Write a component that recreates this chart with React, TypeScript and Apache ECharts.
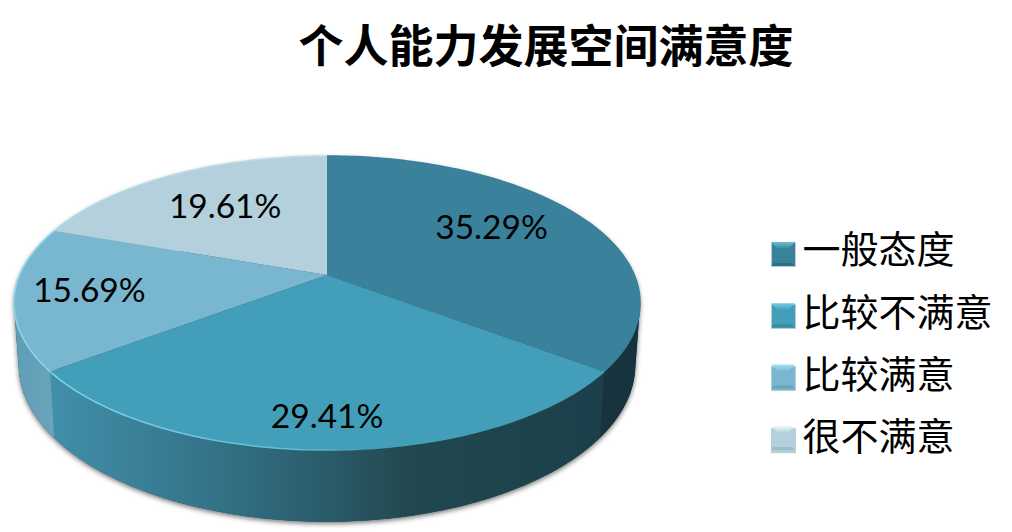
import React, { useEffect, useRef } from "react";
import * as echarts from "echarts";

const categories = ["一般态度", "比较不满意", "比较满意", "很不满意"];
const shares = [35.29, 29.41, 15.69, 19.61];
const titleText = "个人能力发展空间满意度";

const faceColors = ["#3a829c", "#439eb9", "#79b6cf", "#b4d0dd"];
const iconBase = ["#3a829c", "#439eb9", "#79b6cf", "#b4d0dd"];
const iconTop = ["#6cc0d8", "#6fcbe2", "#a5e2f2", "#eefafd"];
const iconLow = ["#2c6f86", "#378aa5", "#6aa5bd", "#9dbcc9"];
const labelReach = [0.63, 0.83, 0.765, 0.63];
const labelRaise = [11, 0, 3, 4];

// Perspective of the plate: the back rim is nearer the apex than the front rim.
const APEX_X = 327;
const APEX_Y = 275;
const WIDTH = 307.3;
const HEIGHT = 141.7;
const TILT = 0.1905;
const BOTTOM_APEX_Y = 335;
const BOTTOM_X = 0.985;
const BOTTOM_Y = 1.067;

const LEGEND_X = 771;
const LEGEND_Y = 242;
const LEGEND_STEP = 61.3;
const ICON = 24;
const LEGEND_ROW = 52.2;

const total = shares.reduce((a, b) => a + b, 0);
const starts = shares.map((_, i) => shares.slice(0, i).reduce((a, b) => a + b, 0) / total);
const ends = shares.map((_, i) => shares.slice(0, i + 1).reduce((a, b) => a + b, 0) / total);

type P = [number, number];

function top(f: number, r = 1): P {
  const t = f * Math.PI * 2;
  const u = Math.sin(t) * r;
  const v = Math.cos(t) * r;
  const d = 1 + TILT * v;
  return [APEX_X + (WIDTH * u) / d, APEX_Y - (HEIGHT * v) / d];
}
function bottom(f: number): P {
  const [x, y] = top(f);
  return [APEX_X + (x - APEX_X) * BOTTOM_X, BOTTOM_APEX_Y + (y - APEX_Y) * BOTTOM_Y];
}
function arcBetween(a: number, b: number, fn: (f: number) => P) {
  const pts: P[] = [];
  const n = 120;
  for (let k = 0; k <= n; k++) pts.push(fn(a + ((b - a) * k) / n));
  return pts;
}
function hull(input: P[]) {
  const pts = [...input].sort((p, q) => p[0] - q[0] || p[1] - q[1]);
  const cross = (o: P, a: P, b: P) => (a[0] - o[0]) * (b[1] - o[1]) - (a[1] - o[1]) * (b[0] - o[0]);
  const build = (list: P[]) => {
    const h: P[] = [];
    for (const p of list) {
      while (h.length >= 2 && cross(h[h.length - 2], h[h.length - 1], p) <= 0) h.pop();
      h.push(p);
    }
    h.pop();
    return h;
  };
  return [...build(pts), ...build(pts.reverse())];
}

const stopsOf = (stops: [number, string][]) => stops.map(([offset, color]) => ({ offset, color }));
const hGrad = (stops: [number, string][], x0: number, x1: number) => ({
  type: "linear", x: x0, y: 0, x2: x1, y2: 0, global: true, colorStops: stopsOf(stops),
});

function sideFill(i: number) {
  if (i === 0) return hGrad([[0, "#1b3d49"], [1, "#16323d"]], 327, 640);
  if (i === 1)
    return hGrad(
      [[0, "#418fa9"], [0.27, "#35758b"], [0.5, "#2a5b69"], [0.65, "#21474f"], [1, "#1c404b"]],
      52, 605,
    );
  if (i === 2) return hGrad([[0, "#5f9db7"], [1, "#6ba5bc"]], 14, 58);
  return "#a9c5d2";
}

function rimStroke(i: number) {
  if (i === 1) return hGrad([[0, "#7cd6ec"], [0.45, "#62bcd4"], [0.56, faceColors[1]], [1, faceColors[1]]], 52, 605);
  if (i === 2) return "#8fd6ea";
  if (i === 3) return hGrad([[0, "#a8d8e6"], [1, "#c6dde7"]], 50, 327);
  return faceColors[0];
}

function sideItem(_: any, api: any) {
  const i = api.value(0);
  const points = hull([...arcBetween(starts[i], ends[i], top), ...arcBetween(starts[i], ends[i], bottom)]);
  return { type: "polygon", shape: { points }, style: { fill: sideFill(i) } };
}

function shadowItem() {
  const points = hull([...arcBetween(0, 1, top), ...arcBetween(0, 1, bottom)]);
  return {
    type: "polygon",
    shape: { points },
    style: {
      fill: "#1c404b",
      shadowBlur: 5,
      shadowColor: "rgba(0,0,0,0.55)",
      shadowOffsetY: 2,
    },
  };
}

function faceItem(_: any, api: any) {
  const i = api.value(0);
  const rim = arcBetween(starts[i], ends[i], top);
  const mid = (starts[i] + ends[i]) / 2;
  const [lx, ly] = top(mid, labelReach[i]);
  return {
    type: "group",
    children: [
      { type: "polygon", shape: { points: [[APEX_X, APEX_Y], ...rim] }, style: { fill: faceColors[i] } },
      {
        type: "polyline",
        shape: { points: rim },
        style: { fill: "none", stroke: rimStroke(i), lineWidth: 1.5 },
      },
      {
        type: "text",
        x: lx,
        y: ly - labelRaise[i],
        z2: 100,
        style: {
          text: `${shares[i].toFixed(2)}%`,
          fill: "#000",
          fontSize: 33.5,
          fontFamily: "Lato, 'Noto Sans CJK SC', sans-serif",
          align: "center",
          verticalAlign: "middle",
        },
      },
    ],
  };
}

function bevels() {
  const b = 7;
  return categories.flatMap((_, i) => {
    const x = LEGEND_X;
    const y = LEGEND_Y + i * LEGEND_STEP;
    const s = ICON;
    const trap = (points: P[], fill: any) => ({ type: "polygon", z: 50, silent: true, shape: { points }, style: { fill } });
    return [
      trap([[x, y], [x + s, y], [x + s - b, y + b], [x + b, y + b]], {
        type: "linear", x: 0, y: 0, x2: 0, y2: 1,
        colorStops: [{ offset: 0, color: iconTop[i] }, { offset: 1, color: iconBase[i] }],
      }),
      trap([[x, y + s], [x + s, y + s], [x + s - 3, y + s - 3], [x + 3, y + s - 3]], iconLow[i]),
    ];
  });
}

export default function App() {
  const ref = useRef<HTMLDivElement>(null);
  useEffect(() => {
    const chart = echarts.init(ref.current!, undefined, { renderer: "svg" });
    chart.setOption({
      animation: false,
      backgroundColor: "#fff",
      title: {
        text: titleText,
        left: 541,
        top: 16,
        textAlign: "center",
        textStyle: {
          fontSize: 45,
          fontWeight: "bold",
          color: "#000",
          fontFamily: "'Noto Sans CJK SC', sans-serif",
        },
      },
      legend: {
        orient: "vertical",
        left: LEGEND_X,
        top: LEGEND_Y - (LEGEND_ROW - ICON) / 2,
        padding: 0,
        itemWidth: ICON,
        itemHeight: ICON,
        itemGap: LEGEND_STEP - LEGEND_ROW,
        selectedMode: false,
        formatter: (name: string) => `{t|${name}}`,
        textStyle: {
          fontSize: 38,
          color: "#000",
          fontFamily: "'Noto Sans CJK SC', sans-serif",
          rich: {
            t: {
              fontSize: 38,
              lineHeight: 30,
              padding: [0, 0, 15, 2],
              color: "#000",
              fontFamily: "'Noto Sans CJK SC', sans-serif",
            },
          },
        },
        data: categories.map((name, i) => ({
          name,
          icon: "rect",
          itemStyle: { color: iconBase[i], borderColor: "#b5cdd6", borderWidth: 1 },
        })),
      },
      graphic: bevels(),
      series: [
        {
          type: "custom",
          name: "阴影",
          coordinateSystem: "none",
          z: 0,
          silent: true,
          renderItem: shadowItem,
          data: [[0]],
        },
        {
          type: "custom",
          name: "侧面",
          coordinateSystem: "none",
          z: 1,
          silent: true,
          renderItem: sideItem,
          data: [[0], [3], [2], [1]],
        },
        ...categories.map((name, i) => ({
          type: "custom",
          name,
          coordinateSystem: "none",
          z: 2,
          itemStyle: { color: faceColors[i] },
          renderItem: faceItem,
          data: [[i, shares[i]]],
        })),
      ],
    });
    return () => chart.dispose();
  }, []);
  return <div ref={ref} style={{ position: "fixed", left: 0, top: 0, width: 1012, height: 532 }} />;
}
